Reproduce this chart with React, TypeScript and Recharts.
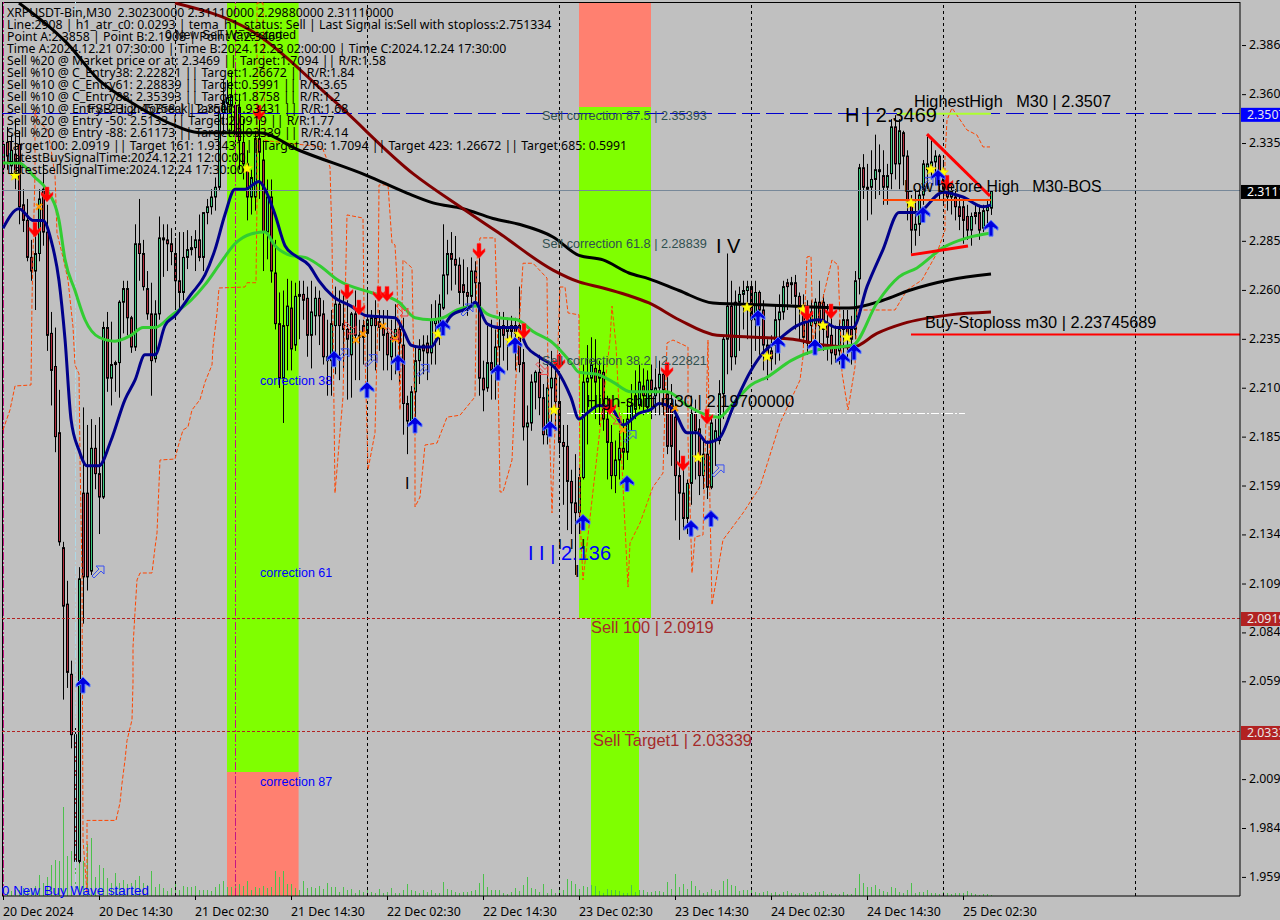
import { Bar, ComposedChart, Line, ReferenceArea, ReferenceDot, ReferenceLine, Scatter, XAxis, YAxis } from 'recharts';

// XRPUSDT-Bin M30, one entry per bar
const highs = [
  2.337, 2.344, 2.340, 2.348, 2.342, 2.312, 2.307, 2.286, 2.294, 2.312,
  2.325, 2.304, 2.249, 2.241, 2.209, 2.131, 2.111, 2.070, 2.039, 2.118,
  2.200, 2.191, 2.194, 2.191, 2.195, 2.244, 2.249, 2.244, 2.224, 2.255,
  2.265, 2.265, 2.247, 2.294, 2.307, 2.286, 2.270, 2.264, 2.255, 2.298,
  2.294, 2.294, 2.292, 2.287, 2.290, 2.290, 2.291, 2.288, 2.291, 2.299,
  2.300, 2.307, 2.312, 2.318, 2.352, 2.368, 2.368, 2.372, 2.363, 2.361,
  2.348, 2.332, 2.322, 2.342, 2.348, 2.337, 2.317, 2.317, 2.286, 2.259,
  2.260, 2.266, 2.265, 2.264, 2.265, 2.265, 2.262, 2.265, 2.262, 2.260,
  2.255, 2.245, 2.250, 2.262, 2.260, 2.258, 2.255, 2.249, 2.260, 2.245,
  2.245, 2.260, 2.250, 2.255, 2.250, 2.250, 2.250, 2.245, 2.253, 2.245,
  2.246, 2.206, 2.211, 2.232, 2.235, 2.237, 2.237, 2.253, 2.255, 2.258,
  2.294, 2.286, 2.290, 2.288, 2.277, 2.276, 2.272, 2.277, 2.275, 2.277,
  2.224, 2.242, 2.245, 2.240, 2.249, 2.249, 2.246, 2.247, 2.246, 2.262,
  2.230, 2.201, 2.217, 2.219, 2.227, 2.212, 2.222, 2.229, 2.224, 2.217,
  2.191, 2.191, 2.168, 2.176, 2.169, 2.222, 2.232, 2.236, 2.235, 2.224,
  2.224, 2.206, 2.191, 2.183, 2.188, 2.194, 2.204, 2.212, 2.219, 2.222,
  2.220, 2.219, 2.222, 2.220, 2.224, 2.219, 2.222, 2.212, 2.204, 2.178,
  2.168, 2.163, 2.206, 2.204, 2.194, 2.183, 2.183, 2.195, 2.194, 2.214,
  2.237, 2.279, 2.265, 2.260, 2.262, 2.265, 2.265, 2.265, 2.265, 2.260,
  2.255, 2.235, 2.237, 2.253, 2.258, 2.265, 2.266, 2.267, 2.268, 2.259,
  2.258, 2.255, 2.255, 2.256, 2.265, 2.258, 2.253, 2.250, 2.242, 2.245,
  2.250, 2.250, 2.247, 2.270, 2.325, 2.330, 2.325, 2.332, 2.340, 2.335,
  2.332, 2.325, 2.348, 2.350, 2.348, 2.342, 2.332, 2.309, 2.312, 2.312,
  2.327, 2.339, 2.337, 2.332, 2.330, 2.327, 2.314, 2.314, 2.312, 2.309,
  2.307, 2.304, 2.300, 2.304, 2.304, 2.304, 2.307, 2.3111,
];
const lows = [
  2.319, 2.322, 2.319, 2.312, 2.294, 2.290, 2.275, 2.265, 2.250, 2.275,
  2.283, 2.229, 2.201, 2.177, 2.129, 2.050, 2.056, 2.025, 1.966, 1.966,
  2.089, 2.106, 2.114, 2.158, 2.135, 2.153, 2.208, 2.201, 2.208, 2.205,
  2.238, 2.237, 2.228, 2.229, 2.265, 2.260, 2.245, 2.206, 2.223, 2.245,
  2.267, 2.270, 2.273, 2.250, 2.250, 2.255, 2.271, 2.278, 2.270, 2.275,
  2.270, 2.294, 2.299, 2.301, 2.311, 2.340, 2.342, 2.342, 2.317, 2.322,
  2.317, 2.296, 2.299, 2.301, 2.307, 2.270, 2.276, 2.264, 2.240, 2.210,
  2.192, 2.219, 2.219, 2.229, 2.235, 2.245, 2.226, 2.220, 2.237, 2.232,
  2.222, 2.206, 2.206, 2.217, 2.214, 2.219, 2.204, 2.205, 2.214, 2.214,
  2.222, 2.212, 2.224, 2.219, 2.229, 2.219, 2.219, 2.214, 2.217, 2.212,
  2.186, 2.176, 2.191, 2.194, 2.212, 2.217, 2.214, 2.222, 2.222, 2.232,
  2.250, 2.258, 2.260, 2.263, 2.253, 2.250, 2.247, 2.253, 2.253, 2.206,
  2.198, 2.208, 2.204, 2.204, 2.217, 2.224, 2.219, 2.232, 2.219, 2.218,
  2.183, 2.160, 2.188, 2.199, 2.196, 2.181, 2.181, 2.188, 2.188, 2.176,
  2.150, 2.137, 2.135, 2.114, 2.135, 2.163, 2.181, 2.199, 2.194, 2.191,
  2.188, 2.163, 2.158, 2.156, 2.163, 2.168, 2.173, 2.188, 2.194, 2.199,
  2.196, 2.199, 2.194, 2.196, 2.196, 2.196, 2.176, 2.170, 2.142, 2.132,
  2.137, 2.135, 2.150, 2.163, 2.155, 2.158, 2.153, 2.158, 2.170, 2.181,
  2.194, 2.217, 2.219, 2.222, 2.229, 2.240, 2.235, 2.222, 2.229, 2.227,
  2.219, 2.214, 2.219, 2.222, 2.224, 2.245, 2.250, 2.253, 2.240, 2.235,
  2.232, 2.227, 2.232, 2.235, 2.229, 2.229, 2.224, 2.222, 2.223, 2.222,
  2.227, 2.224, 2.222, 2.235, 2.258, 2.307, 2.296, 2.299, 2.307, 2.309,
  2.304, 2.304, 2.312, 2.317, 2.312, 2.314, 2.296, 2.279, 2.283, 2.288,
  2.304, 2.312, 2.317, 2.314, 2.307, 2.304, 2.301, 2.299, 2.296, 2.291,
  2.284, 2.286, 2.283, 2.294, 2.286, 2.290, 2.294, 2.2988,
];
const opens = [
  2.323, 2.336, 2.324, 2.330, 2.335, 2.304, 2.296, 2.277, 2.270, 2.279,
  2.312, 2.290, 2.238, 2.221, 2.187, 2.128, 2.099, 2.063, 2.032, 1.967,
  2.156, 2.156, 2.116, 2.179, 2.166, 2.154, 2.241, 2.215, 2.222, 2.223,
  2.254, 2.261, 2.246, 2.231, 2.284, 2.279, 2.261, 2.248, 2.225, 2.248,
  2.287, 2.286, 2.284, 2.279, 2.265, 2.259, 2.277, 2.281, 2.282, 2.286,
  2.277, 2.300, 2.303, 2.308, 2.313, 2.351, 2.356, 2.355, 2.355, 2.354,
  2.336, 2.325, 2.308, 2.308, 2.338, 2.327, 2.290, 2.308, 2.269, 2.243,
  2.215, 2.242, 2.251, 2.232, 2.257, 2.258, 2.256, 2.237, 2.247, 2.256,
  2.248, 2.226, 2.224, 2.242, 2.253, 2.243, 2.240, 2.227, 2.248, 2.237,
  2.242, 2.238, 2.242, 2.246, 2.244, 2.241, 2.238, 2.226, 2.236, 2.240,
  2.232, 2.202, 2.193, 2.208, 2.224, 2.232, 2.233, 2.228, 2.243, 2.238,
  2.251, 2.268, 2.279, 2.276, 2.273, 2.263, 2.259, 2.257, 2.270, 2.264,
  2.215, 2.210, 2.223, 2.219, 2.231, 2.242, 2.239, 2.242, 2.242, 2.242,
  2.223, 2.190, 2.192, 2.213, 2.218, 2.205, 2.186, 2.210, 2.215, 2.203,
  2.182, 2.180, 2.162, 2.151, 2.146, 2.164, 2.213, 2.215, 2.220, 2.219,
  2.218, 2.194, 2.182, 2.165, 2.173, 2.179, 2.177, 2.194, 2.199, 2.201,
  2.211, 2.200, 2.214, 2.206, 2.210, 2.217, 2.207, 2.202, 2.195, 2.165,
  2.156, 2.143, 2.161, 2.197, 2.189, 2.165, 2.176, 2.159, 2.183, 2.183,
  2.207, 2.235, 2.252, 2.226, 2.254, 2.258, 2.260, 2.262, 2.245, 2.259,
  2.250, 2.232, 2.229, 2.232, 2.245, 2.249, 2.264, 2.263, 2.264, 2.257,
  2.252, 2.250, 2.242, 2.243, 2.254, 2.254, 2.243, 2.237, 2.231, 2.229,
  2.240, 2.245, 2.240, 2.240, 2.266, 2.323, 2.313, 2.313, 2.317, 2.321,
  2.319, 2.313, 2.320, 2.344, 2.325, 2.341, 2.329, 2.305, 2.291, 2.294,
  2.309, 2.322, 2.324, 2.326, 2.329, 2.319, 2.312, 2.308, 2.308, 2.303,
  2.303, 2.298, 2.291, 2.300, 2.300, 2.292, 2.301, 2.3023,
];
const closes = [
  2.335, 2.329, 2.332, 2.319, 2.303, 2.296, 2.277, 2.270, 2.279, 2.307,
  2.290, 2.237, 2.219, 2.185, 2.131, 2.098, 2.064, 2.032, 1.967, 2.112,
  2.113, 2.113, 2.179, 2.166, 2.154, 2.241, 2.215, 2.222, 2.223, 2.254,
  2.261, 2.246, 2.231, 2.284, 2.279, 2.262, 2.248, 2.224, 2.248, 2.287,
  2.286, 2.284, 2.280, 2.265, 2.259, 2.277, 2.281, 2.282, 2.286, 2.277,
  2.300, 2.303, 2.308, 2.313, 2.351, 2.357, 2.359, 2.360, 2.340, 2.337,
  2.325, 2.308, 2.318, 2.338, 2.331, 2.290, 2.308, 2.270, 2.243, 2.215,
  2.242, 2.252, 2.230, 2.257, 2.258, 2.255, 2.237, 2.249, 2.256, 2.247,
  2.226, 2.224, 2.243, 2.253, 2.242, 2.240, 2.235, 2.248, 2.237, 2.236,
  2.236, 2.245, 2.246, 2.242, 2.241, 2.237, 2.227, 2.236, 2.240, 2.233,
  2.202, 2.193, 2.208, 2.224, 2.230, 2.229, 2.228, 2.245, 2.245, 2.253,
  2.268, 2.279, 2.276, 2.273, 2.259, 2.259, 2.257, 2.270, 2.264, 2.215,
  2.209, 2.223, 2.219, 2.231, 2.240, 2.237, 2.241, 2.239, 2.238, 2.222,
  2.190, 2.192, 2.213, 2.218, 2.205, 2.186, 2.210, 2.215, 2.203, 2.182,
  2.180, 2.162, 2.151, 2.146, 2.164, 2.213, 2.215, 2.222, 2.213, 2.215,
  2.194, 2.182, 2.165, 2.173, 2.179, 2.177, 2.194, 2.201, 2.206, 2.213,
  2.206, 2.214, 2.209, 2.210, 2.217, 2.209, 2.180, 2.180, 2.165, 2.156,
  2.143, 2.161, 2.197, 2.188, 2.165, 2.176, 2.159, 2.192, 2.188, 2.207,
  2.235, 2.252, 2.226, 2.254, 2.258, 2.260, 2.262, 2.245, 2.259, 2.250,
  2.232, 2.227, 2.225, 2.245, 2.249, 2.262, 2.262, 2.264, 2.257, 2.251,
  2.236, 2.233, 2.249, 2.254, 2.242, 2.240, 2.236, 2.228, 2.227, 2.240,
  2.245, 2.236, 2.235, 2.265, 2.323, 2.313, 2.312, 2.317, 2.322, 2.322,
  2.313, 2.319, 2.344, 2.325, 2.342, 2.329, 2.306, 2.291, 2.294, 2.309,
  2.325, 2.325, 2.326, 2.329, 2.319, 2.312, 2.308, 2.311, 2.303, 2.298,
  2.296, 2.291, 2.298, 2.298, 2.291, 2.301, 2.303, 2.3111,
];
const volumes = [
  6, 4, 5, 6, 6, 8, 6, 8, 10, 21,
  13, 19, 31, 36, 35, 89, 40, 45, 28, 40,
  35, 52, 58, 19, 31, 28, 18, 13, 23, 13,
  16, 12, 13, 16, 20, 13, 11, 25, 9, 12,
  8, 5, 8, 12, 6, 10, 9, 9, 10, 6,
  6, 6, 5, 9, 12, 15, 9, 9, 12, 12,
  10, 15, 6, 9, 8, 10, 8, 9, 25, 19,
  25, 12, 12, 8, 6, 15, 8, 9, 8, 10,
  7, 13, 9, 9, 4, 9, 6, 7, 3, 6,
  4, 6, 4, 3, 7, 3, 4, 8, 3, 3,
  6, 12, 6, 5, 3, 6, 4, 6, 3, 3,
  14, 7, 6, 4, 3, 4, 4, 5, 6, 13,
  22, 9, 6, 6, 6, 3, 2, 4, 8, 5,
  11, 19, 8, 7, 4, 12, 3, 7, 3, 8,
  6, 17, 15, 12, 7, 10, 9, 11, 10, 5,
  3, 7, 6, 6, 5, 3, 3, 11, 4, 6,
  6, 4, 4, 5, 5, 4, 14, 7, 22, 9,
  12, 7, 15, 10, 6, 3, 4, 7, 5, 6,
  15, 17, 11, 10, 5, 6, 6, 8, 4, 3,
  4, 5, 3, 4, 2, 4, 5, 3, 2, 3,
  4, 3, 2, 4, 4, 5, 2, 3, 2, 2,
  4, 2, 2, 8, 22, 13, 9, 9, 11, 7,
  5, 4, 9, 8, 4, 3, 6, 13, 3, 4,
  4, 6, 3, 3, 2, 4, 3, 2, 3, 3,
  3, 5, 3, 2, 1, 2, 2, 1,
];

const blueBars = [0, 4, 7.5, 10, 12, 14, 15.5, 17, 19, 21, 24, 27, 30.5, 33, 35.5, 38, 40.5, 43, 47, 50.5, 53, 55.5, 58, 60.5, 64, 65.5, 68, 70.5, 73, 76.5, 79, 82.5, 87, 91, 98, 100, 102, 104, 107, 109, 112, 117, 118, 121, 124, 128.5, 131, 134, 138.5, 142, 144, 146, 149, 152, 155, 159, 162, 164, 167.5, 171, 173.5, 176, 179, 182.5, 187, 190, 194, 198.5, 204, 208.5, 212.5, 216, 220, 224, 228.5, 235, 240, 245, 247];
const blueLine = [2.292, 2.302, 2.296, 2.296, 2.286, 2.265, 2.235, 2.194, 2.178, 2.170, 2.170, 2.183, 2.204, 2.214, 2.227, 2.227, 2.242, 2.247, 2.258, 2.268, 2.281, 2.299, 2.312, 2.312, 2.316, 2.312, 2.299, 2.283, 2.278, 2.273, 2.265, 2.257, 2.252, 2.247, 2.246, 2.240, 2.232, 2.231, 2.231, 2.237, 2.247, 2.252, 2.254, 2.243, 2.241, 2.241, 2.231, 2.226, 2.219, 2.205, 2.194, 2.197, 2.201, 2.200, 2.191, 2.197, 2.199, 2.202, 2.199, 2.187, 2.187, 2.182, 2.184, 2.200, 2.219, 2.228, 2.235, 2.242, 2.245, 2.241, 2.241, 2.262, 2.281, 2.300, 2.300, 2.3105, 2.308, 2.303, 2.304];
const greenBars = [0, 4, 8, 11, 14, 15.5, 18, 20.5, 24, 28, 32, 35, 38, 42, 47, 50.5, 54, 58, 62, 65.5, 68, 72, 75.5, 79, 84, 92, 99, 103, 107, 110, 113.5, 118.5, 121, 124, 128.5, 132.5, 137.5, 142, 144, 148.5, 152.5, 157, 164, 166, 171, 176, 179, 182.5, 187, 191, 197, 203.5, 209, 212.5, 218.5, 224, 228.5, 235, 241, 247];
const greenLine = [2.3255, 2.3255, 2.318, 2.3115, 2.296, 2.276, 2.260, 2.245, 2.236, 2.234, 2.237, 2.241, 2.241, 2.247, 2.255, 2.263, 2.273, 2.284, 2.289, 2.290, 2.283, 2.278, 2.277, 2.273, 2.265, 2.259, 2.254, 2.246, 2.245, 2.246, 2.250, 2.252, 2.248, 2.246, 2.245, 2.239, 2.233, 2.223, 2.218, 2.217, 2.213, 2.208, 2.208, 2.208, 2.201, 2.196, 2.195, 2.202, 2.2115, 2.2155, 2.224, 2.2295, 2.231, 2.232, 2.2536, 2.267, 2.2716, 2.282, 2.287, 2.2895];
const blackBars = [4, 16, 24, 32.5, 41, 49, 64, 74, 91, 101, 107.5, 115, 122.5, 129, 137.5, 144, 150, 156.5, 161.5, 169, 177.5, 191, 211.5, 220, 226.5, 236.5, 247];
const blackLine = [2.4076, 2.387, 2.368, 2.356, 2.3465, 2.341, 2.341, 2.332, 2.319, 2.310, 2.305, 2.302, 2.297, 2.294, 2.2875, 2.278, 2.2757, 2.269, 2.266, 2.260, 2.2536, 2.2526, 2.251, 2.255, 2.260, 2.2654, 2.2685];
const maroonBars = [43, 61.75, 82.5, 102.5, 115, 124, 137.5, 144, 150, 156, 161.5, 169, 178.5, 186.75, 197.5, 205, 212.5, 218.5, 225, 236.75, 247];
const maroonLine = [2.4076, 2.3937, 2.3578, 2.320, 2.302, 2.2895, 2.2705, 2.2644, 2.2613, 2.2577, 2.2536, 2.245, 2.237, 2.2362, 2.235, 2.232, 2.231, 2.238, 2.243, 2.2475, 2.249];
const stopBars = [0, 1.75, 3, 7, 7.25, 7.75, 8, 8, 8.5, 11.25, 13, 13.5, 15, 16.25, 17.5, 18, 19, 19.25, 19.75, 20, 21, 21, 28.25, 29.25, 29.75, 30.5, 31, 32.25, 32.5, 32.5, 33, 33.5, 34.25, 37.25, 38, 38.5, 39.25, 43, 43.75, 45, 46.25, 47.25, 49.25, 50.5, 52.25, 52.5, 53.5, 54, 60.5, 61, 63.25, 63.5, 63.5, 65, 65.5, 79.75, 81.75, 82.25, 83, 84.25, 85, 86, 90, 90.25, 91.25, 93, 93.75, 94, 96.25, 97.25, 98, 98.5, 99.25, 100, 102.25, 103, 103, 104.25, 105.5, 108.5, 111, 114.25, 118, 118.5, 119.25, 123, 123.5, 124.25, 125, 127.25, 128, 130, 132.5, 136, 136.25, 137.25, 139.25, 140.5, 141.25, 144, 144.25, 145, 151.75, 152.25, 153.25, 156.25, 156.75, 159.25, 162.5, 165, 166, 167.5, 171.25, 171.25, 172.25, 173, 175, 176.25, 176.75, 177.25, 180, 185, 189.25, 194.25, 199.25, 200, 201, 202, 202.5, 207.25, 208.75, 209.75, 211.25, 213, 213.5, 223, 226, 229.75, 233.5, 235.5, 235.5, 236, 237.25, 241, 243.5, 245, 246.75];
const stopLine = [2.1884, 2.1987, 2.211, 2.2115, 2.255, 2.2998, 2.3203, 2.3527, 2.3475, 2.3424, 2.3193, 2.2895, 2.277, 2.2654, 2.2413, 2.2218, 2.2172, 2.1746, 2.115, 1.978, 1.9508, 1.988, 1.988, 1.997, 2.007, 2.019, 2.029, 2.0396, 2.0585, 2.077, 2.095, 2.1114, 2.115, 2.115, 2.128, 2.1356, 2.173, 2.1735, 2.1797, 2.1884, 2.190, 2.1987, 2.204, 2.213, 2.2218, 2.231, 2.2485, 2.2613, 2.2618, 2.264, 2.264, 2.3065, 2.4076, 2.4076, 2.337, 2.3337, 2.3234, 2.286, 2.156, 2.187, 2.2054, 2.2988, 2.2972, 2.2485, 2.168, 2.187, 2.2485, 2.3142, 2.3142, 2.2844, 2.2834, 2.2654, 2.1987, 2.2757, 2.2716, 2.190, 2.1489, 2.154, 2.1807, 2.1817, 2.195, 2.196, 2.2054, 2.2757, 2.287, 2.287, 2.2516, 2.1566, 2.1566, 2.173, 2.2074, 2.274, 2.274, 2.2664, 2.2156, 2.1458, 2.2618, 2.2618, 2.2485, 2.2475, 2.1438, 2.1114, 2.2346, 2.252, 2.232, 2.1078, 2.1304, 2.1407, 2.1592, 2.1663, 2.2331, 2.2346, 2.231, 2.1833, 2.115, 2.1335, 2.1345, 2.2346, 2.1489, 2.0986, 2.132, 2.1458, 2.1592, 2.192, 2.214, 2.2259, 2.2772, 2.2777, 2.2346, 2.2757, 2.2731, 2.2177, 2.1987, 2.2208, 2.25, 2.25, 2.2603, 2.2654, 2.2793, 2.291, 2.3285, 2.3475, 2.3537, 2.3424, 2.3398, 2.3337, 2.3337];

const sellArrows = [[11, 2.309], [8, 2.291], [64, 2.351], [86, 2.259], [89, 2.251], [94, 2.258], [96, 2.258], [119, 2.280], [130.25, 2.239], [139, 2.223], [151.75, 2.200], [166, 2.219], [170, 2.171], [176, 2.195], [201, 2.248], [207, 2.249], [236, 2.315]];
const buyArrows = [[20, 2.0575], [82.75, 2.225], [91, 2.209], [98.75, 2.223], [103, 2.191], [110, 2.241], [123.75, 2.218], [128, 2.232], [136.75, 2.189], [145, 2.141], [156, 2.161], [172, 2.138], [177, 2.143], [188.75, 2.246], [193.75, 2.232], [203, 2.231], [210, 2.224], [212.75, 2.2285], [230, 2.299], [233.75, 2.318], [247, 2.292]];
const hollowBuys = [[23.75, 2.1155], [85, 2.227], [92, 2.224], [105, 2.219], [116, 2.250], [156.75, 2.185], [178.75, 2.1674], [231, 2.315]];
const hollowSells = [[86.75, 2.2408], [99.75, 2.25], [97.25, 2.238], [134.75, 2.220], [153, 2.1946]];
const stars = [[3, 2.3193], [61, 2.323], [108.75, 2.238], [126.75, 2.2346], [129, 2.238], [137.75, 2.199], [173.75, 2.1746], [186, 2.2516], [191, 2.2264], [200, 2.2505], [205, 2.2423], [211, 2.2362], [227, 2.305], [232, 2.3224], [235, 2.3208]];
const crosses = [[9, 2.303], [88.25, 2.2346], [90, 2.2377], [95, 2.2418], [98, 2.2351], [155, 2.1884], [168, 2.1997]];

// 2.311 and 2.034 sit under the price tags in the terminal, so they are left out
const priceTicks = [2.386, 2.3608, 2.3357, 2.2855, 2.2603, 2.2352, 2.2101, 2.185, 2.1599, 2.1348, 2.1096, 2.0845, 2.0594, 2.0092, 1.9841, 1.959];
const timeTicks = [0, 24, 48, 72, 96, 120, 144, 168, 192, 216, 240];
const timeLabels = ['20 Dec 2024', '20 Dec 14:30', '21 Dec 02:30', '21 Dec 14:30', '22 Dec 02:30', '22 Dec 14:30', '23 Dec 02:30', '23 Dec 14:30', '24 Dec 02:30', '24 Dec 14:30', '25 Dec 02:30'];
const sessionBars = [43, 91, 139, 187, 235, 283];

const infoLines = [
  'XRPUSDT-Bin,M30  2.30230000 2.31110000 2.29880000 2.31110000',
  'Line:2908 | h1_atr_c0: 0.0293 | tema_h1_status: Sell | Last Signal is:Sell with stoploss:2.751334',
  'Point A:2.3858 | Point B:2.1908 | Point C:2.3469',
  'Time A:2024.12.21 07:30:00 | Time B:2024.12.23 02:00:00 | Time C:2024.12.24 17:30:00',
  'Sell %20 @ Market price or at: 2.3469 || Target:1.7094 || R/R:1.58',
  'Sell %10 @ C_Entry38: 2.22821 || Target:1.26672 || R/R:1.84',
  'Sell %10 @ C_Entry61: 2.28839 || Target:0.5991 || R/R:3.65',
  'Sell %10 @ C_Entry88: 2.35393 || Target:1.8758 || R/R:1.2',
  'Sell %10 @ Entry -23: 2.45758 || Target:1.93431 || R/R:1.68',
  'Sell %20 @ Entry -50: 2.5133 || Target:2.0919 || R/R:1.77',
  'Sell %20 @ Entry -88: 2.61173 || Target:2.03339 || R/R:4.14',
  'Target100: 2.0919 || Target 161: 1.93431 || Target 250: 1.7094 || Target 423: 1.26672 || Target 685: 0.5991',
  'LatestBuySignalTime:2024.12.21 12:00:00',
  'LatestSellSignalTime:2024.12.24 17:30:00',
];

const PRICE_MIN = 1.9492;
const PRICE_MAX = 2.4081;
const BAR_MIN = -0.25;
const BAR_MAX = 309.25;
const TEXT_FONT = '"Liberation Sans", Arial, sans-serif';
const UI_FONT = '"Noto Sans", sans-serif';
const UI_SIZE = 12.3;

const rows = opens.map((o, i) => ({ i, o, h: highs[i], l: lows[i], c: closes[i], range: [lows[i], highs[i]], vol: volumes[i] }));
const series = (bars: number[], vals: number[]) => bars.map((i, k) => ({ i, v: vals[k] }));
const pts = (list: number[][]) => list.map(([i, y]) => ({ i, y }));

function Candle(props: any) {
  const { x, width, y, height, payload } = props;
  const cx = Math.round(x + width / 2) + 0.5;
  const k = height / (payload.h - payload.l || 1);
  const top = y + (payload.h - Math.max(payload.o, payload.c)) * k;
  const bot = y + (payload.h - Math.min(payload.o, payload.c)) * k;
  const up = payload.c >= payload.o;
  return (
    <g>
      <line x1={cx} x2={cx} y1={y} y2={y + height} stroke="#000" strokeWidth={1} />
      <rect x={cx - 1} y={top} width={2} height={Math.max(bot - top, 1)} fill={up ? '#3CCB80' : '#B22A3C'} stroke="#000" strokeWidth={1} />
    </g>
  );
}

function VolumeStick(props: any) {
  const { x, width, y, height } = props;
  const cx = Math.round(x + width / 2) + 0.5;
  return <line x1={cx} x2={cx} y1={y} y2={y + height} stroke="#4CC04C" strokeWidth={1} />;
}

const DownArrow = ({ cx, cy }: any) => (
  <path d={`M${cx - 2} ${cy - 8} h4 v8 l4 -3 v3 l-6 7 l-6 -7 v-3 l4 3 z`} fill="#FF0000" stroke="#FF4040" strokeWidth={0.5} />
);
const UpArrow = ({ cx, cy }: any) => (
  <path d={`M${cx} ${cy - 8} l7 7 v3 l-5 -3 v9 h-4 v-9 l-5 3 v-3 z`} fill="#0000E0" stroke="#5A7CFF" strokeWidth={1} />
);
const HollowBuy = ({ cx, cy }: any) => (
  <path d={`M${cx + 6} ${cy - 6} h-8 l3 3 l-7 7 l2 2 l7 -7 l3 3 z`} fill="none" stroke="#3A50F0" strokeWidth={1} />
);
const HollowSell = ({ cx, cy }: any) => (
  <path d={`M${cx + 6} ${cy + 6} h-8 l3 -3 l-7 -7 l2 -2 l7 7 l3 -3 z`} fill="none" stroke="#F04040" strokeWidth={1} />
);
const Star = ({ cx, cy }: any) => (
  <path d={`M${cx} ${cy - 5} l1.5 3.5 l4 0.3 l-3 2.5 l1 4 l-3.5 -2.2 l-3.5 2.2 l1 -4 l-3 -2.5 l4 -0.3 z`} fill="#FFFF00" stroke="#E8C800" strokeWidth={0.5} />
);
const Cross = ({ cx, cy }: any) => (
  <path d={`M${cx - 3} ${cy - 3} L${cx + 3} ${cy + 3} M${cx + 3} ${cy - 3} L${cx - 3} ${cy + 3}`} stroke="#FF9A00" strokeWidth={2} fill="none" />
);

const TimeTick = ({ x, y, payload }: any) => (
  <g>
    <line x1={x + 0.5} x2={x + 0.5} y1={y - 8} y2={y - 4} stroke="#000" />
    <text x={x} y={y + 12} fontFamily={UI_FONT} fontSize={UI_SIZE} fill="#000">{timeLabels[timeTicks.indexOf(payload.value)]}</text>
  </g>
);
const PriceTick = ({ x, y, payload }: any) => (
  <g>
    <line x1={x - 6} x2={x - 2} y1={y + 0.5} y2={y + 0.5} stroke="#000" />
    <text x={x + 1} y={y + 4} fontFamily={UI_FONT} fontSize={UI_SIZE} fill="#000">{payload.value.toFixed(5)}</text>
  </g>
);

function priceTag(price: number, fill: string, color: string) {
  return (
    <ReferenceDot
      key={`tag${price}`}
      yAxisId="price"
      x={BAR_MAX}
      y={price}
      r={0}
      ifOverflow="visible"
      shape={({ cx, cy }: any) => (
        <g>
          <rect x={cx + 1} y={cy - 6} width={40} height={14} fill={fill} />
          <text x={cx + 7} y={cy + 5} fontFamily={UI_FONT} fontSize={UI_SIZE} fill={color}>{price.toFixed(5)}</text>
        </g>
      )}
    />
  );
}

function note(i: number, price: number, text: string, color: string, size: number, font = TEXT_FONT) {
  return (
    <ReferenceDot
      key={text + i}
      yAxisId="price"
      x={i}
      y={price}
      r={0}
      ifOverflow="visible"
      shape={({ cx, cy }: any) => (
        <text x={cx} y={cy} fontFamily={font} fontSize={size} fill={color} style={{ whiteSpace: 'pre' }}>{text}</text>
      )}
    />
  );
}

export default function App() {
  return (
    <div style={{ position: 'absolute', left: 0, top: 0, width: 1280, height: 920, background: '#C0C0C0', overflow: 'hidden' }}>
      <ComposedChart width={1280} height={920} data={rows} margin={{ top: 2, right: 0, bottom: 0, left: 2 }} barGap={0}>
        <XAxis dataKey="i" type="number" domain={[BAR_MIN, BAR_MAX]} ticks={timeTicks} interval={0} height={24} allowDataOverflow stroke="#000" tickLine={false} tick={<TimeTick />} />
        <YAxis yAxisId="price" orientation="right" type="number" domain={[PRICE_MIN, PRICE_MAX]} ticks={priceTicks} interval={0} width={40} allowDataOverflow stroke="#000" tickLine={false} tick={<PriceTick />} />
        <YAxis yAxisId="vol" hide type="number" domain={[0, 894]} allowDataOverflow />

        <ReferenceArea yAxisId="price" x1={56} x2={73.9} y1={2.0129} y2={PRICE_MAX} fill="#7FFF00" fillOpacity={1} stroke="none" />
        <ReferenceArea yAxisId="price" x1={56} x2={73.9} y1={PRICE_MIN} y2={2.0129} fill="#FF8070" fillOpacity={1} stroke="none" />
        <ReferenceArea yAxisId="price" x1={144} x2={162} y1={2.0919} y2={2.3542} fill="#7FFF00" fillOpacity={1} stroke="none" />
        <ReferenceArea yAxisId="price" x1={144} x2={162} y1={2.3542} y2={PRICE_MAX} fill="#FF8070" fillOpacity={1} stroke="none" />
        <ReferenceArea yAxisId="price" x1={147} x2={159} y1={PRICE_MIN} y2={2.0919} fill="#7FFF00" fillOpacity={1} stroke="none" />

        <ReferenceLine yAxisId="price" y={PRICE_MAX} stroke="#000" shapeRendering="crispEdges" />
        <ReferenceLine yAxisId="price" x={BAR_MIN} stroke="#000" shapeRendering="crispEdges" />
        {sessionBars.map((b) => (
          <ReferenceLine key={b} yAxisId="price" x={b} stroke="#000" strokeDasharray="3 3" shapeRendering="crispEdges" />
        ))}
        <ReferenceLine yAxisId="price" x={0} stroke="#C71585" strokeDasharray="8 2 2 2" shapeRendering="crispEdges" />
        <ReferenceLine yAxisId="price" x={58} stroke="#C71585" strokeDasharray="8 2 2 2" shapeRendering="crispEdges" />
        <ReferenceLine yAxisId="price" x={18} stroke="#ADD8E6" strokeDasharray="8 2 2 2" shapeRendering="crispEdges" />
        <ReferenceLine yAxisId="price" y={2.3507} stroke="#0000CD" strokeDasharray="18 6" shapeRendering="crispEdges" />
        <ReferenceLine yAxisId="price" y={2.3111} stroke="#778899" shapeRendering="crispEdges" />
        <ReferenceLine yAxisId="price" y={2.0919} stroke="#B22222" strokeDasharray="3 2" shapeRendering="crispEdges" />
        <ReferenceLine yAxisId="price" y={2.03339} stroke="#B22222" strokeDasharray="3 2" shapeRendering="crispEdges" />
        <ReferenceLine yAxisId="price" segment={[{ x: 227, y: 2.23745689 }, { x: BAR_MAX, y: 2.23745689 }]} stroke="#FF0000" strokeWidth={2} />
        <ReferenceLine yAxisId="price" segment={[{ x: 141, y: 2.197 }, { x: 240.5, y: 2.197 }]} stroke="#FFFFFF" strokeDasharray="8 2 2 2" shapeRendering="crispEdges" />

        <Bar yAxisId="vol" dataKey="vol" barSize={1} shape={<VolumeStick />} isAnimationActive={false} />
        <Bar yAxisId="price" dataKey="range" barSize={3} shape={<Candle />} isAnimationActive={false} />

        <Line yAxisId="price" data={series(stopBars, stopLine)} dataKey="v" type="linear" stroke="#FF4500" strokeWidth={1} strokeDasharray="4 2" dot={false} isAnimationActive={false} />
        <Line yAxisId="price" data={series(blackBars, blackLine)} dataKey="v" type="monotoneX" stroke="#000000" strokeWidth={3} dot={false} isAnimationActive={false} />
        <Line yAxisId="price" data={series(maroonBars, maroonLine)} dataKey="v" type="monotoneX" stroke="#800000" strokeWidth={3} dot={false} isAnimationActive={false} />
        <Line yAxisId="price" data={series(greenBars, greenLine)} dataKey="v" type="monotoneX" stroke="#32CD32" strokeWidth={3} dot={false} isAnimationActive={false} />
        <Line yAxisId="price" data={series(blueBars, blueLine)} dataKey="v" type="monotoneX" stroke="#00008B" strokeWidth={3} dot={false} isAnimationActive={false} />

        <ReferenceLine yAxisId="price" segment={[{ x: 223.5, y: 2.3507 }, { x: 247, y: 2.3507 }]} stroke="#ADFF2F" strokeWidth={2} />
        <ReferenceLine yAxisId="price" segment={[{ x: 220, y: 2.3065 }, { x: 247, y: 2.3065 }]} stroke="#FF4500" strokeWidth={2} />
        <ReferenceLine yAxisId="price" segment={[{ x: 231, y: 2.3403 }, { x: 246.75, y: 2.3085 }]} stroke="#FF0000" strokeWidth={3} />
        <ReferenceLine yAxisId="price" segment={[{ x: 227, y: 2.2783 }, { x: 241.25, y: 2.2829 }]} stroke="#FF0000" strokeWidth={3} />

        <Scatter yAxisId="price" data={pts(crosses)} dataKey="y" shape={<Cross />} isAnimationActive={false} />
        <Scatter yAxisId="price" data={pts(stars)} dataKey="y" shape={<Star />} isAnimationActive={false} />
        <Scatter yAxisId="price" data={pts(hollowBuys)} dataKey="y" shape={<HollowBuy />} isAnimationActive={false} />
        <Scatter yAxisId="price" data={pts(hollowSells)} dataKey="y" shape={<HollowSell />} isAnimationActive={false} />
        <Scatter yAxisId="price" data={pts(sellArrows)} dataKey="y" shape={<DownArrow />} isAnimationActive={false} />
        <Scatter yAxisId="price" data={pts(buyArrows)} dataKey="y" shape={<UpArrow />} isAnimationActive={false} />

        {note(64.25, 2.2115, 'correction 38', '#0000FF', 12.5)}
        {note(64.25, 2.113, 'correction 61', '#0000FF', 12.5)}
        {note(64.25, 2.0057, 'correction 87', '#0000FF', 12.5)}
        {note(134.75, 2.3475, 'Sell correction 87.5 | 2.35393', '#2F4F4F', 12.7)}
        {note(134.75, 2.2818, 'Sell correction 61.8 | 2.28839', '#2F4F4F', 12.7)}
        {note(134.75, 2.2218, 'Sell correction 38.2 | 2.22821', '#2F4F4F', 12.7)}
        {note(145.75, 2.2002, 'High-shift m30 | 2.19700000', '#000', 16.6)}
        {note(227.75, 2.3542, 'HighestHigh   M30 | 2.3507', '#000', 16.3)}
        {note(225.25, 2.3106, 'Low before High   M30-BOS', '#000', 15.8)}
        {note(230.5, 2.2408, 'Buy-Stoploss m30 | 2.23745689', '#000', 16.3)}
        {note(147, 2.0842, 'Sell 100 | 2.0919', '#A52A2A', 16.4)}
        {note(147.5, 2.026, 'Sell Target1 | 2.03339', '#A52A2A', 16.4)}
        {note(-0.25, 1.9497, '0 New Buy Wave started', '#0000FF', 13.4)}
        {note(40.5, 2.3891, '0 New Sell Wave started', '#000', 12)}
        {note(21.25, 2.3511, 'FSB-High ToBreak | 2.3507', '#000', 12)}
        {note(131.25, 2.1217, 'I I | 2.136', '#0000FF', 20)}
        {note(210.5, 2.3465, 'H | 2.3469', '#000', 20)}
        {note(178.25, 2.2793, 'I V', '#000', 20)}
        {note(100.5, 2.158, 'I', '#000', 16)}
        {note(143, 2.113, 'I', '#000', 16)}
        {note(138.75, 2.1273, 'I  I  I', '#000', 14)}

        {priceTag(2.3507, '#0000FF', '#E8E8E8')}
        {priceTag(2.3111, '#000000', '#FFFFFF')}
        {priceTag(2.0919, '#B22222', '#E8E8E8')}
        {priceTag(2.03339, '#B22222', '#E8E8E8')}
      </ComposedChart>
      <div style={{ position: 'absolute', left: 7, top: 7, fontFamily: UI_FONT, fontSize: UI_SIZE, lineHeight: '12.05px', color: '#000', whiteSpace: 'pre', pointerEvents: 'none' }}>
        {infoLines.map((t) => (
          <div key={t}>{t}</div>
        ))}
      </div>
    </div>
  );
}
